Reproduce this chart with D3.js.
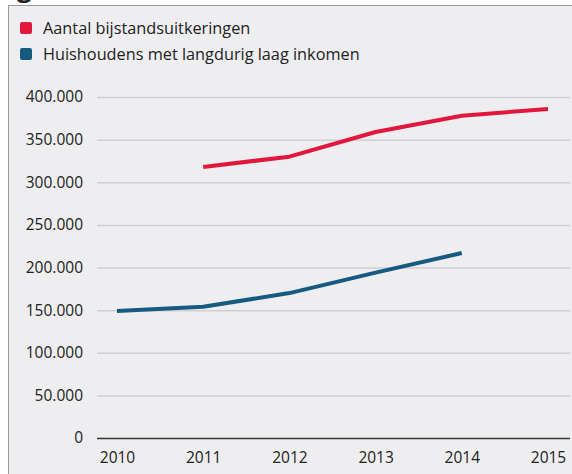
<!DOCTYPE html>
<html>
<head>
<meta charset="utf-8">
<script src="https://cdn.jsdelivr.net/npm/d3@7"></script>
<style>
  body { margin: 0; background: #fff; }
  svg { display: block; font-family: "Open Sans", sans-serif; }
</style>
</head>
<body>
<div id="chart"></div>
<script>
// chart data
const years = [2010, 2011, 2012, 2013, 2014, 2015];
const bijstand = [null, 318000, 330000, 359000, 378000, 386000];
const laagInkomen = [149000, 154000, 170000, 194000, 217000, null];
const yTicks = [0, 50000, 100000, 150000, 200000, 250000, 300000, 350000, 400000];
const seriesNames = ['Aantal bijstandsuitkeringen', 'Huishoudens met langdurig laag inkomen'];
const seriesColors = ['#e2173d', '#155a80'];

const width = 572;
const height = 474;

const svg = d3.select('#chart')
  .append('svg')
  .attr('width', width)
  .attr('height', height);

// cut off title fragment above the panel
svg.append('text')
  .attr('x', 17)
  .attr('y', -3)
  .style('font-size', '26px')
  .style('font-weight', 'bold')
  .style('fill', '#222')
  .text('g');

// panel
svg.append('rect')
  .attr('x', 8.5)
  .attr('y', 5.5)
  .attr('width', 600)
  .attr('height', 500)
  .style('fill', '#eeeef0')
  .style('stroke', '#9a9a9a');

// legend
const legend = svg.append('g')
  .selectAll('g')
  .data(seriesNames)
  .enter().append('g')
  .attr('transform', (d, i) => `translate(20,${22 + i * 26})`);

legend.append('rect')
  .attr('width', 12)
  .attr('height', 12)
  .attr('rx', 2)
  .style('fill', (d, i) => seriesColors[i]);

legend.append('text')
  .attr('x', 23)
  .attr('y', 12)
  .style('font-size', '16.3px')
  .style('fill', '#222')
  .text(d => d);

// scales
const x = d3.scalePoint()
  .domain(years)
  .range([117, 548]);

const y = d3.scaleLinear()
  .domain([0, 400000])
  .range([438, 97]);

// gridlines + y labels
const yAxis = d3.axisLeft(y)
  .tickValues(yTicks)
  .tickSize(-(570 - 97))
  .tickPadding(14)
  .tickFormat(d => d3.format(',')(d).replace(/,/g, '.'));

const yg = svg.append('g')
  .attr('transform', 'translate(97,0)')
  .call(yAxis);

yg.select('.domain').remove();
yg.selectAll('.tick line')
  .style('stroke', d => d === 0 ? '#333' : '#cfcfd2')
  .style('stroke-width', 1.5);
yg.selectAll('.tick text')
  .style('font-size', '15.5px')
  .style('font-family', '"Open Sans", sans-serif')
  .style('fill', '#222');

// x labels
const xAxis = d3.axisBottom(x)
  .tickSize(0)
  .tickPadding(14);

const xg = svg.append('g')
  .attr('transform', 'translate(0,438)')
  .call(xAxis);

xg.select('.domain').remove();
xg.selectAll('.tick text')
  .style('font-size', '15.5px')
  .style('font-family', '"Open Sans", sans-serif')
  .style('fill', '#222');

// lines
const line = d3.line()
  .defined(d => d[1] !== null)
  .x(d => x(d[0]))
  .y(d => y(d[1]));

[bijstand, laagInkomen].forEach((values, i) => {
  svg.append('path')
    .datum(years.map((yr, j) => [yr, values[j]]))
    .attr('d', line)
    .style('fill', 'none')
    .style('stroke', seriesColors[i])
    .style('stroke-width', 4)
    .style('stroke-linejoin', 'round');
});
</script>
</body>
</html>
